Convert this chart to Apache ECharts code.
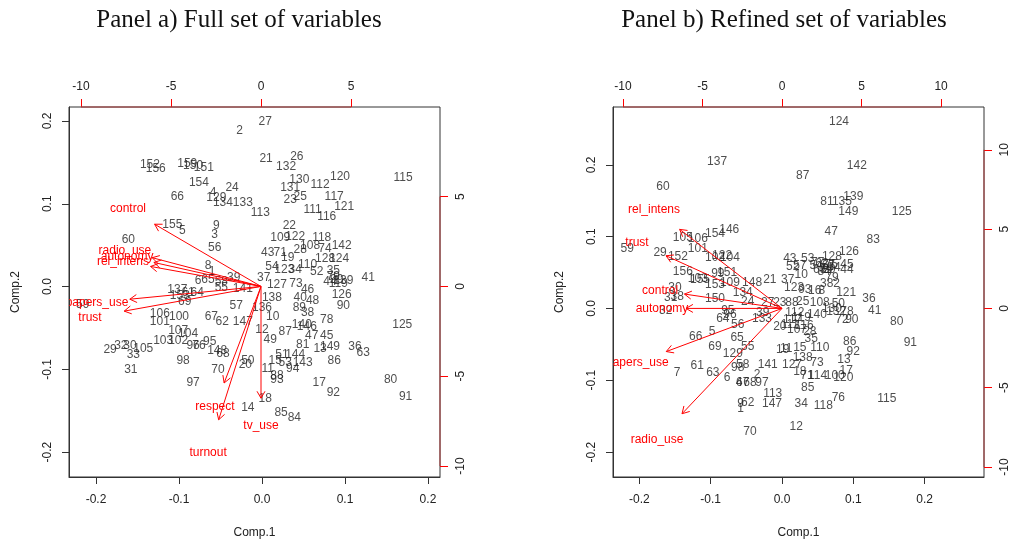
<!DOCTYPE html>
<html lang="en">
<head>
    <meta charset="UTF-8">
    <title>Biplots</title>
    <style>
        html, body { margin: 0; height: 100%; background: #fff; }
        #main { width: 1019px; height: 544px; }
    </style>
    <script src="https://cdn.jsdelivr.net/npm/echarts@6/dist/echarts.min.js"></script>
</head>
<body>
    <div id="main"></div>
    <script>
        // panel titles
        const titles = ['Panel a) Full set of variables', 'Panel b) Refined set of variables']

        // tick values
        const scoreTicks = [-0.2, -0.1, 0, 0.1, 0.2]
        const loadTicksA = [-10, -5, 0, 5]
        const loadTicksB = [-10, -5, 0, 5, 10]

        // panel a: observation scores [label, Comp.1, Comp.2]
        const scoresA = [
            ['2', -0.027, 0.188], ['27', 0.004, 0.199], ['152', -0.135, 0.147], ['156', -0.128, 0.142],
            ['159', -0.090, 0.149], ['150', -0.083, 0.146], ['151', -0.070, 0.143], ['154', -0.076, 0.125],
            ['24', -0.036, 0.119], ['66', -0.102, 0.108], ['4', -0.059, 0.113], ['129', -0.055, 0.107],
            ['134', -0.047, 0.101], ['133', -0.023, 0.101], ['113', -0.002, 0.089], ['21', 0.005, 0.155],
            ['26', 0.042, 0.157], ['132', 0.029, 0.145], ['130', 0.045, 0.129], ['131', 0.034, 0.119],
            ['112', 0.070, 0.123], ['120', 0.094, 0.133], ['115', 0.170, 0.131], ['23', 0.034, 0.105],
            ['25', 0.046, 0.108], ['117', 0.087, 0.108], ['121', 0.099, 0.096], ['111', 0.061, 0.093],
            ['116', 0.078, 0.084], ['155', -0.108, 0.075], ['5', -0.096, 0.067], ['9', -0.055, 0.073],
            ['3', -0.057, 0.063], ['60', -0.161, 0.057], ['56', -0.057, 0.047], ['8', -0.065, 0.025],
            ['1', -0.060, 0.018], ['6', -0.077, 0.007], ['65', -0.065, 0.008], ['58', -0.049, 0.006],
            ['55', -0.049, -0.001], ['39', -0.034, 0.011], ['141', -0.023, -0.002], ['137', -0.102, -0.004],
            ['153', -0.099, -0.011], ['64', -0.078, -0.007], ['61', -0.089, -0.008], ['69', -0.093, -0.018],
            ['57', -0.031, -0.023], ['106', -0.123, -0.033], ['100', -0.100, -0.036], ['101', -0.123, -0.043],
            ['67', -0.061, -0.036], ['62', -0.048, -0.042], ['147', -0.023, -0.043], ['107', -0.101, -0.053],
            ['104', -0.089, -0.057], ['12', 0.000, -0.052], ['22', 0.033, 0.073], ['109', 0.022, 0.059],
            ['122', 0.040, 0.060], ['118', 0.072, 0.059], ['108', 0.058, 0.049], ['142', 0.096, 0.049],
            ['74', 0.076, 0.046], ['43', 0.007, 0.041], ['71', 0.022, 0.041], ['19', 0.031, 0.035],
            ['28', 0.046, 0.045], ['128', 0.076, 0.034], ['124', 0.093, 0.034], ['110', 0.055, 0.027],
            ['54', 0.012, 0.024], ['123', 0.027, 0.020], ['34', 0.040, 0.020], ['52', 0.066, 0.018],
            ['35', 0.086, 0.019], ['37', 0.002, 0.011], ['44', 0.082, 0.006], ['99', 0.090, 0.008],
            ['139', 0.098, 0.007], ['79', 0.086, 0.012], ['119', 0.092, 0.004], ['41', 0.128, 0.011],
            ['127', 0.018, 0.002], ['73', 0.041, 0.004], ['46', 0.055, -0.004], ['138', 0.012, -0.013],
            ['40', 0.046, -0.014], ['48', 0.061, -0.017], ['126', 0.096, -0.010], ['90', 0.098, -0.023],
            ['136', 0.000, -0.025], ['89', 0.045, -0.025], ['38', 0.055, -0.031], ['10', 0.013, -0.037],
            ['140', 0.048, -0.046], ['146', 0.054, -0.049], ['78', 0.078, -0.040], ['125', 0.169, -0.046],
            ['87', 0.028, -0.055], ['47', 0.060, -0.059], ['45', 0.078, -0.059], ['49', 0.010, -0.064],
            ['81', 0.049, -0.070], ['13', 0.070, -0.075], ['149', 0.082, -0.073], ['36', 0.112, -0.073],
            ['63', 0.122, -0.080], ['51', 0.024, -0.082], ['144', 0.040, -0.082], ['15', 0.016, -0.090],
            ['53', 0.028, -0.092], ['143', 0.049, -0.092], ['94', 0.037, -0.099], ['86', 0.087, -0.089],
            ['11', 0.007, -0.099], ['88', 0.018, -0.108], ['93', 0.018, -0.113], ['17', 0.069, -0.116],
            ['92', 0.086, -0.128], ['80', 0.155, -0.113], ['91', 0.173, -0.133], ['18', 0.004, -0.136],
            ['14', -0.017, -0.146], ['85', 0.023, -0.152], ['84', 0.039, -0.158], ['20', -0.020, -0.094],
            ['50', -0.017, -0.090], ['29', -0.183, -0.076], ['32', -0.170, -0.072], ['30', -0.159, -0.072],
            ['105', -0.143, -0.075], ['33', -0.155, -0.082], ['31', -0.158, -0.101], ['103', -0.119, -0.065],
            ['102', -0.101, -0.065], ['96', -0.083, -0.072], ['76', -0.076, -0.072], ['59', -0.216, -0.022],
            ['95', -0.063, -0.067], ['148', -0.054, -0.078], ['68', -0.047, -0.081], ['98', -0.095, -0.090],
            ['70', -0.053, -0.101], ['97', -0.083, -0.116]
        ]

        // panel a: variable loadings [name, x, y]
        const loadingsA = [
            ['control', -7.39, 4.33], ['radio_use', -7.56, 2.00], ['autonomy', -7.44, 1.67],
            ['rel_intens', -7.67, 1.39], ['papers_use', -9.11, -0.89], ['trust', -9.50, -1.72],
            ['respect', -2.56, -6.72], ['turnout', -2.94, -9.28], ['tv_use', 0.00, -7.78]
        ]

        // panel b: observation scores
        const scoresB = [
            ['137', -0.091, 0.204], ['60', -0.167, 0.169], ['146', -0.074, 0.110], ['154', -0.094, 0.104],
            ['124', 0.080, 0.260], ['142', 0.105, 0.199], ['87', 0.029, 0.185], ['81', 0.063, 0.149],
            ['135', 0.084, 0.149], ['139', 0.100, 0.156], ['149', 0.093, 0.135], ['125', 0.168, 0.135],
            ['47', 0.069, 0.107], ['59', -0.217, 0.083], ['105', -0.139, 0.099], ['106', -0.118, 0.097],
            ['101', -0.118, 0.083], ['29', -0.171, 0.078], ['152', -0.146, 0.072], ['102', -0.094, 0.071],
            ['104', -0.073, 0.071], ['122', -0.084, 0.074], ['156', -0.139, 0.051], ['151', -0.077, 0.050],
            ['103', -0.118, 0.042], ['155', -0.115, 0.040], ['153', -0.094, 0.033], ['99', -0.090, 0.049],
            ['109', -0.073, 0.036], ['148', -0.042, 0.036], ['21', -0.017, 0.040], ['37', 0.008, 0.040],
            ['30', -0.150, 0.029], ['38', -0.147, 0.017], ['31', -0.156, 0.015], ['150', -0.094, 0.013],
            ['134', -0.055, 0.022], ['24', -0.048, 0.010], ['27', -0.020, 0.008], ['32', -0.163, -0.003],
            ['39', -0.027, -0.006], ['95', -0.076, -0.003], ['96', -0.073, -0.008], ['64', -0.083, -0.014],
            ['56', -0.062, -0.022], ['133', -0.028, -0.014], ['20', -0.003, -0.026], ['66', -0.121, -0.039],
            ['5', -0.098, -0.033], ['69', -0.094, -0.053], ['65', -0.063, -0.040], ['55', -0.048, -0.053],
            ['83', 0.128, 0.096], ['126', 0.094, 0.079], ['43', 0.011, 0.069], ['53', 0.036, 0.069],
            ['128', 0.070, 0.072], ['52', 0.015, 0.058], ['57', 0.025, 0.060], ['10', 0.027, 0.047],
            ['54', 0.048, 0.060], ['62', 0.056, 0.063], ['67', 0.065, 0.060], ['68', 0.053, 0.054],
            ['74', 0.062, 0.056], ['75', 0.069, 0.061], ['77', 0.050, 0.064], ['84', 0.059, 0.051],
            ['89', 0.066, 0.054], ['94', 0.073, 0.057], ['45', 0.091, 0.061], ['44', 0.091, 0.054],
            ['79', 0.070, 0.043], ['3', 0.058, 0.035], ['82', 0.072, 0.035], ['123', 0.017, 0.029],
            ['93', 0.032, 0.026], ['16', 0.046, 0.025], ['8', 0.056, 0.025], ['121', 0.090, 0.022],
            ['36', 0.122, 0.013], ['41', 0.130, -0.003], ['80', 0.161, -0.019], ['91', 0.180, -0.047],
            ['86', 0.095, -0.046], ['50', 0.079, 0.006], ['108', 0.053, 0.008], ['23', -0.003, 0.008],
            ['88', 0.014, 0.008], ['25', 0.029, 0.010], ['112', 0.018, -0.006], ['117', 0.015, -0.015],
            ['119', 0.027, -0.013], ['111', 0.011, -0.022], ['140', 0.049, -0.008], ['130', 0.070, 0.000],
            ['132', 0.076, -0.004], ['78', 0.091, -0.004], ['72', 0.084, -0.015], ['90', 0.098, -0.015],
            ['28', 0.039, -0.032], ['35', 0.041, -0.042], ['107', 0.021, -0.029], ['116', 0.031, -0.024],
            ['19', 0.001, -0.058], ['11', 0.006, -0.056], ['15', 0.025, -0.054], ['110', 0.053, -0.054],
            ['92', 0.100, -0.060], ['13', 0.087, -0.072], ['141', -0.020, -0.078], ['127', 0.014, -0.078],
            ['138', 0.029, -0.068], ['73', 0.049, -0.076], ['18', 0.025, -0.088], ['17', 0.090, -0.086],
            ['100', 0.074, -0.094], ['120', 0.086, -0.096], ['71', 0.035, -0.094], ['114', 0.050, -0.094],
            ['85', 0.036, -0.110], ['113', -0.013, -0.119], ['147', -0.014, -0.132], ['34', 0.027, -0.133],
            ['118', 0.058, -0.136], ['76', 0.079, -0.124], ['115', 0.147, -0.125], ['12', 0.020, -0.164],
            ['7', -0.147, -0.090], ['61', -0.119, -0.079], ['63', -0.097, -0.089], ['129', -0.069, -0.063],
            ['6', -0.077, -0.097], ['58', -0.055, -0.078], ['98', -0.062, -0.082], ['2', -0.035, -0.092],
            ['67', -0.055, -0.103], ['97', -0.028, -0.104], ['68', -0.045, -0.103], ['4', -0.060, -0.104],
            ['9', -0.058, -0.132], ['1', -0.058, -0.140], ['62', -0.048, -0.131], ['70', -0.045, -0.172]
        ]

        // panel b: variable loadings
        const loadingsB = [
            ['rel_intens', -8.05, 6.23], ['trust', -9.12, 4.15], ['control', -7.67, 1.13],
            ['autonomy', -7.55, 0.00], ['papers_use', -9.10, -3.40], ['radio_use', -7.86, -8.30]
        ]

        const RED = '#ff0000'
        const INK = '#222'
        const FONT = 'Liberation Sans, Arial, sans-serif'

        const chart = echarts.init(document.getElementById('main'))

        function fmt1 (v) { return Number(v).toFixed(1) }

        function axesFor (grid, sRange, lRange, lTicks) {
            const tickLab = { color: INK, fontSize: 12, fontFamily: FONT }
            const xs = [
                {
                    gridIndex: grid, type: 'value', position: 'bottom', min: sRange[0], max: sRange[1],
                    splitLine: { show: false },
                    axisLine: { show: true, onZero: false, lineStyle: { color: '#333' } },
                    axisTick: { show: true, length: 7, customValues: scoreTicks, lineStyle: { color: '#333' } },
                    axisLabel: Object.assign({ margin: 17, customValues: scoreTicks, formatter: fmt1 }, tickLab),
                    name: 'Comp.1', nameLocation: 'middle', nameGap: 50,
                    nameTextStyle: { color: INK, fontSize: 12, fontFamily: FONT }
                },
                {
                    gridIndex: grid, type: 'value', position: 'top', min: lRange[0], max: lRange[1],
                    splitLine: { show: false },
                    axisLine: { show: false, onZero: false },
                    axisTick: { show: true, length: 8, customValues: lTicks, lineStyle: { color: RED } },
                    axisLabel: Object.assign({ margin: 14, customValues: lTicks }, tickLab)
                }
            ]
            const ys = [
                {
                    gridIndex: grid, type: 'value', position: 'left', min: sRange[2], max: sRange[3],
                    splitLine: { show: false },
                    axisLine: { show: true, onZero: false, lineStyle: { color: '#333' } },
                    axisTick: { show: true, length: 7, customValues: scoreTicks, lineStyle: { color: '#333' } },
                    axisLabel: Object.assign({ margin: 15, rotate: 90, customValues: scoreTicks, formatter: fmt1 }, tickLab),
                    name: 'Comp.2', nameLocation: 'middle', nameGap: 47, nameRotate: 90,
                    nameTextStyle: { color: INK, fontSize: 12, fontFamily: FONT }
                },
                {
                    gridIndex: grid, type: 'value', position: 'right', min: lRange[2], max: lRange[3],
                    splitLine: { show: false },
                    axisLine: { show: false, onZero: false },
                    axisTick: { show: true, length: 8, customValues: lTicks, lineStyle: { color: RED } },
                    axisLabel: Object.assign({ margin: 15, rotate: 90, customValues: lTicks }, tickLab)
                }
            ]
            return { xs, ys }
        }

        // R-style red axis lines: only from first to last tick
        function axisSegSeries (xi, yi, ticks) {
            return {
                type: 'custom', xAxisIndex: xi, yAxisIndex: yi, silent: true, clip: false, z: 5,
                data: [[0, 0]],
                renderItem (params, api) {
                    const cs = params.coordSys
                    const a = api.coord([ticks[0], 0])[0]
                    const b = api.coord([ticks[ticks.length - 1], 0])[0]
                    const c = api.coord([0, ticks[0]])[1]
                    const d = api.coord([0, ticks[ticks.length - 1]])[1]
                    const st = { stroke: '#a83a3a', lineWidth: 1 }
                    const right = cs.x + cs.width
                    return {
                        type: 'group', children: [
                            { type: 'line', shape: { x1: a, y1: cs.y, x2: b, y2: cs.y }, style: st },
                            { type: 'line', shape: { x1: right, y1: c, x2: right, y2: d }, style: st }
                        ]
                    }
                }
            }
        }

        function scoreSeries (xi, yi, rows) {
            return {
                type: 'scatter', xAxisIndex: xi, yAxisIndex: yi, silent: true,
                symbol: 'circle', symbolSize: 1,
                itemStyle: { color: 'rgba(0,0,0,0)' },
                label: {
                    show: true, position: 'inside', color: INK, fontSize: 12, fontFamily: FONT,
                    formatter: p => rows[p.dataIndex][0]
                },
                data: rows.map(r => [r[1], r[2]])
            }
        }

        function arrowSeries (xi, yi, rows) {
            return {
                type: 'custom', xAxisIndex: xi, yAxisIndex: yi, silent: true, clip: true, z: 3,
                data: rows.map(r => [r[1], r[2]]),
                renderItem (params, api) {
                    const o = api.coord([0, 0])
                    const t = api.coord([api.value(0) * 0.8, api.value(1) * 0.8])
                    const ang = Math.atan2(t[1] - o[1], t[0] - o[0])
                    const L = 8, w = Math.PI / 6
                    const p1 = [t[0] - L * Math.cos(ang - w), t[1] - L * Math.sin(ang - w)]
                    const p2 = [t[0] - L * Math.cos(ang + w), t[1] - L * Math.sin(ang + w)]
                    const st = { stroke: RED, lineWidth: 1, fill: null }
                    return {
                        type: 'group', children: [
                            { type: 'line', shape: { x1: o[0], y1: o[1], x2: t[0], y2: t[1] }, style: st },
                            { type: 'polyline', shape: { points: [p1, t, p2] }, style: st }
                        ]
                    }
                }
            }
        }

        function loadLabelSeries (xi, yi, rows) {
            return {
                type: 'custom', xAxisIndex: xi, yAxisIndex: yi, silent: true, clip: true, z: 4,
                data: rows.map(r => [r[1], r[2]]),
                renderItem (params, api) {
                    const p = api.coord([api.value(0), api.value(1)])
                    return {
                        type: 'text',
                        style: {
                            text: rows[params.dataIndex][0], x: p[0], y: p[1],
                            fill: RED, fontSize: 12, fontFamily: FONT,
                            align: 'center', verticalAlign: 'middle'
                        }
                    }
                }
            }
        }

        const A = axesFor(0, [-0.2325, 0.2145, -0.2301, 0.2169], [-10.667, 9.944, -10.611, 9.99], loadTicksA)
        const B = axesFor(1, [-0.2370, 0.2833, -0.2347, 0.2806], [-10.63, 12.70, -10.63, 12.70], loadTicksB)

        const titleStyle = { fontFamily: 'Liberation Serif, Times New Roman, serif', fontSize: 25, fontWeight: 'normal', color: '#111' }

        const option = {
            animation: false,
            title: [
                { text: titles[0], left: 239, top: 8, padding: 0, textAlign: 'center', textStyle: titleStyle },
                { text: titles[1], left: 784, top: 8, padding: 0, textAlign: 'center', textStyle: titleStyle }
            ],
            grid: [
                { left: 69, top: 107, width: 371, height: 371, show: true, borderColor: '#333', borderWidth: 1 },
                { left: 613, top: 107, width: 371, height: 371, show: true, borderColor: '#333', borderWidth: 1 }
            ],
            xAxis: [].concat(A.xs, B.xs),
            yAxis: [].concat(A.ys, B.ys),
            series: [
                axisSegSeries(1, 1, loadTicksA),
                axisSegSeries(3, 3, loadTicksB),
                scoreSeries(0, 0, scoresA),
                scoreSeries(2, 2, scoresB),
                arrowSeries(1, 1, loadingsA),
                arrowSeries(3, 3, loadingsB),
                loadLabelSeries(1, 1, loadingsA),
                loadLabelSeries(3, 3, loadingsB)
            ]
        }

        chart.setOption(option)
    </script>
</body>
</html>
